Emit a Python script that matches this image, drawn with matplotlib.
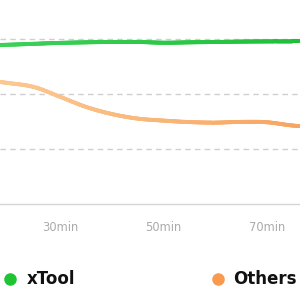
import numpy as np
import matplotlib.pyplot as plt
from matplotlib.collections import LineCollection
from matplotlib.colors import LinearSegmentedColormap
from matplotlib.lines import Line2D

# data (minutes, score)
minutes = [15, 20, 25, 30, 35, 40, 45, 50, 55, 60, 65, 70, 75, 80]
xtool   = [86.6, 86.9, 87.4, 87.9, 88.2, 88.4, 88.4, 88.0, 88.2, 88.4, 88.6, 88.7, 88.7, 88.7]
others  = [67.5, 66.0, 63.8, 58.5, 53.0, 49.1, 46.6, 45.5, 44.7, 44.4, 44.8, 44.6, 42.8, 42.0]
tick_pos    = [30, 50, 70]
tick_labels = ["30min", "50min", "70min"]
grid_vals   = [30, 60, 90]
series_names = ["xTool", "Others"]

plt.rcParams['font.family'] = ['DejaVu Sans']

fig = plt.figure(figsize=(3, 3), dpi=100)
ax = fig.add_axes([0, 0.32, 1, 0.68])


def smooth_line(ax, x, y, c0, c1, lw=2.8):
    # Catmull-Rom drawing through the read points (rendering only)
    x = np.asarray(x, float); y = np.asarray(y, float)
    xs = np.linspace(x[0], x[-1], 400)
    ys = np.empty_like(xs)
    for i, xv in enumerate(xs):
        k = min(max(np.searchsorted(x, xv) - 1, 0), len(x) - 2)
        p0 = y[max(k - 1, 0)]; p1 = y[k]; p2 = y[k + 1]; p3 = y[min(k + 2, len(y) - 1)]
        t = (xv - x[k]) / (x[k + 1] - x[k])
        ys[i] = 0.5 * ((2 * p1) + (-p0 + p2) * t + (2 * p0 - 5 * p1 + 4 * p2 - p3) * t ** 2
                       + (-p0 + 3 * p1 - 3 * p2 + p3) * t ** 3)
    pts = np.column_stack([xs, ys]).reshape(-1, 1, 2)
    segs = np.concatenate([pts[:-1], pts[1:]], axis=1)
    cmap = LinearSegmentedColormap.from_list("g", [c0, c1])
    lc = LineCollection(segs, cmap=cmap, linewidth=lw, capstyle='round', zorder=3)
    lc.set_array(np.linspace(0, 1, len(segs)))
    ax.add_collection(lc)


smooth_line(ax, minutes, xtool, "#3fd25a", "#1dbf36")
smooth_line(ax, minutes, others, "#fccb95", "#f7a35e")

ax.set_xlim(18.4, 76.4)
ax.set_ylim(0, 111.3)

for g in grid_vals:
    ax.axhline(g, color="#cfcfcf", lw=1, ls=(0, (4, 3)), zorder=1)

for s in ["top", "right", "left"]:
    ax.spines[s].set_visible(False)
ax.spines["bottom"].set_color("#d6d6d6")
ax.spines["bottom"].set_linewidth(1)

ax.set_yticks([])
ax.set_xticks(tick_pos)
ax.set_xticklabels(tick_labels, color="#ababab", fontsize=8.3)
ax.tick_params(axis="x", length=0, pad=12)

# legend
fig.add_artist(Line2D([0.034], [0.07], marker="o", ms=8, color="#1fc433",
                      transform=fig.transFigure, ls=""))
fig.text(0.09, 0.07, series_names[0], fontsize=12, fontweight="bold",
         color="#111111", va="center", ha="left")
fig.add_artist(Line2D([0.727], [0.07], marker="o", ms=8, color="#f99a4e",
                      transform=fig.transFigure, ls=""))
fig.text(0.777, 0.07, series_names[1], fontsize=12, fontweight="bold",
         color="#111111", va="center", ha="left")

fig.savefig("out.png", dpi=100)
